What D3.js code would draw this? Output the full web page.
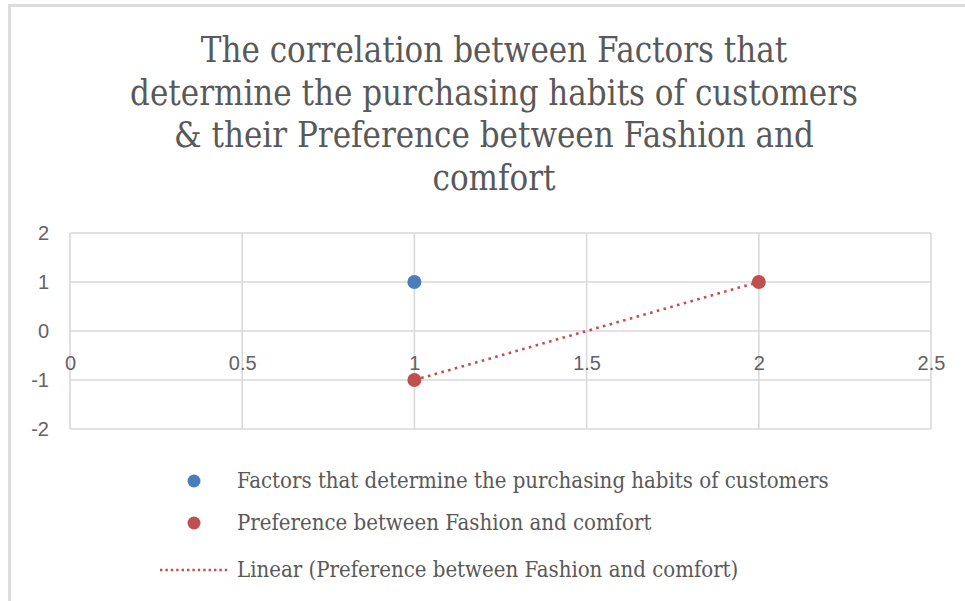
<!DOCTYPE html>
<html>
<head>
<meta charset="utf-8">
<script src="https://cdn.jsdelivr.net/npm/d3@7"></script>
<style>
  body { margin: 0; background: #fff; }
  svg { display: block; }
</style>
</head>
<body>
<div id="chart"></div>
<script>
const titleLines = [
    "The correlation between Factors that",
    "determine the purchasing habits of customers",
    "& their Preference between Fashion and",
    "comfort"
];

const factorsX = [1];
const factorsY = [1];
const prefX = [1, 2];
const prefY = [-1, 1];

const xTicks = [0, 0.5, 1, 1.5, 2, 2.5];
const yTicks = [-2, -1, 0, 1, 2];

const legendLabels = [
    "Factors that determine the purchasing habits of customers",
    "Preference between Fashion and comfort",
    "Linear (Preference between Fashion and comfort)"
];

const width = 965, height = 601;
const textColor = "#595959";
const gridColor = "#d9d9d9";
const blue = "#4a7ebb";
const red = "#c0504d";
const serif = "'DejaVu Serif Condensed', 'DejaVu Serif', serif";
const sans = "'Liberation Sans', Lato, sans-serif";

const svg = d3.select("#chart")
    .append("svg")
    .attr("width", width)
    .attr("height", height);

// chart frame (only top and left edges show)
svg.append("line")
    .attr("x1", 8).attr("x2", width).attr("y1", 5.5).attr("y2", 5.5)
    .style("stroke", "#dcdcdc").style("stroke-width", 3);
svg.append("line")
    .attr("x1", 9.5).attr("x2", 9.5).attr("y1", 4).attr("y2", height)
    .style("stroke", "#dcdcdc").style("stroke-width", 3);

// title
svg.append("g")
    .selectAll("text")
    .data(titleLines)
    .join("text")
    .attr("x", 494)
    .attr("y", (d, i) => 62 + i * 42.7)
    .attr("text-anchor", "middle")
    .style("font-family", serif)
    .style("font-stretch", "condensed")
    .style("font-size", "34.5px")
    .style("fill", textColor)
    .text(d => d);

const x = d3.scaleLinear().domain([0, 2.5]).range([70, 931]);
const y = d3.scaleLinear().domain([-2, 2]).range([429, 233]);

// gridlines
const grid = svg.append("g");
grid.selectAll(".vgrid")
    .data(xTicks)
    .join("line")
    .attr("x1", d => x(d)).attr("x2", d => x(d))
    .attr("y1", y(2)).attr("y2", y(-2))
    .style("stroke", gridColor).style("stroke-width", 1.6);
grid.selectAll(".hgrid")
    .data(yTicks)
    .join("line")
    .attr("x1", x(0)).attr("x2", x(2.5))
    .attr("y1", d => y(d)).attr("y2", d => y(d))
    .style("stroke", gridColor).style("stroke-width", 1.6);

// y axis labels
const yAxis = d3.axisLeft(y).tickValues(yTicks).tickSize(0).tickPadding(21).tickFormat(d => String(d));
svg.append("g")
    .attr("transform", `translate(${x(0)},0)`)
    .call(yAxis)
    .call(g => g.select(".domain").remove())
    .call(g => g.selectAll("text")
        .style("font-family", sans).style("font-size", "20px").style("fill", "#636363"));

// x axis labels, crossing at y = 0
const xAxis = d3.axisBottom(x).tickValues(xTicks).tickSize(0).tickPadding(25).tickFormat(d => String(d));
svg.append("g")
    .attr("transform", `translate(0,${y(0)})`)
    .call(xAxis)
    .call(g => g.select(".domain").remove())
    .call(g => g.selectAll("text")
        .style("font-family", sans).style("font-size", "20px").style("fill", "#636363"));

// linear trendline for the preference series
const mx = d3.mean(prefX), my = d3.mean(prefY);
const slope = d3.sum(prefX, (v, i) => (v - mx) * (prefY[i] - my)) / d3.sum(prefX, v => (v - mx) ** 2);
const intercept = my - slope * mx;
const [x0, x1] = d3.extent(prefX);
svg.append("line")
    .attr("x1", x(x0)).attr("y1", y(intercept + slope * x0))
    .attr("x2", x(x1)).attr("y2", y(intercept + slope * x1))
    .style("stroke", red).style("stroke-width", 2.6)
    .style("stroke-dasharray", "2.6 4.4");

// markers
svg.append("g")
    .selectAll("circle")
    .data(factorsX.map((v, i) => [v, factorsY[i]]))
    .join("circle")
    .attr("cx", d => x(d[0])).attr("cy", d => y(d[1]))
    .attr("r", 7)
    .attr("fill", blue);
svg.append("g")
    .selectAll("circle")
    .data(prefX.map((v, i) => [v, prefY[i]]))
    .join("circle")
    .attr("cx", d => x(d[0])).attr("cy", d => y(d[1]))
    .attr("r", 7)
    .attr("fill", red);

// legend
const legend = svg.append("g");
const legendY = [481, 523, 570];
legend.append("circle").attr("cx", 194).attr("cy", legendY[0]).attr("r", 6.5).attr("fill", blue);
legend.append("circle").attr("cx", 194).attr("cy", legendY[1]).attr("r", 6.5).attr("fill", red);
legend.append("line")
    .attr("x1", 160).attr("x2", 229).attr("y1", legendY[2]).attr("y2", legendY[2])
    .style("stroke", red).style("stroke-width", 2.4)
    .style("stroke-dasharray", "2.4 3");
legend.selectAll("text")
    .data(legendLabels)
    .join("text")
    .attr("x", 237)
    .attr("y", (d, i) => legendY[i] + 7)
    .style("font-family", serif)
    .style("font-stretch", "condensed")
    .style("font-size", "22px")
    .style("fill", textColor)
    .text(d => d);
</script>
</body>
</html>
